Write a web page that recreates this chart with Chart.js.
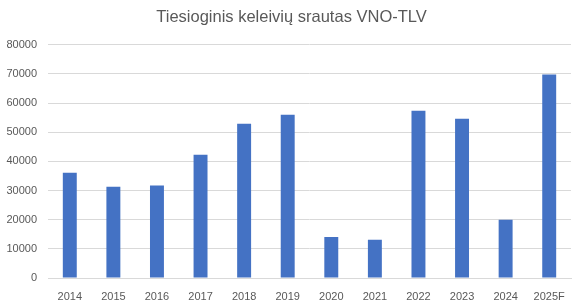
<!DOCTYPE html>
<html>
<head>
<meta charset="utf-8">
<script src="https://cdn.jsdelivr.net/npm/chart.js@4/dist/chart.umd.min.js"></script>
<style>
html,body{margin:0;padding:0;background:#fff;}
#wrap{width:583px;height:306px;position:relative;}
</style>
</head>
<body>
<div id="wrap"><canvas id="c" width="583" height="306"></canvas></div>
<script>
const categories = ["2014","2015","2016","2017","2018","2019","2020","2021","2022","2023","2024","2025F"];
const passengers = [36100,31300,31700,42300,52900,56000,14100,13100,57400,54600,20000,69800];
const yTicks = [0,10000,20000,30000,40000,50000,60000,70000,80000];
const chartTitle = "Tiesioginis keleivių srautas VNO-TLV";

const fontFam = "'Liberation Sans', Arial, sans-serif";
new Chart(document.getElementById('c'), {
  type: 'bar',
  data: {
    labels: categories,
    datasets: [{
      data: passengers,
      backgroundColor: '#4472c4',
      borderWidth: 0,
      categoryPercentage: 0.64,
      barPercentage: 0.5
    }]
  },
  options: {
    responsive: false,
    animation: false,
    layout: { padding: 0 },
    plugins: {
      legend: { display: false },
      tooltip: { enabled: false },
      title: {
        display: true,
        text: chartTitle,
        color: '#595959',
        font: { family: fontFam, size: 16.5, weight: 'normal' },
        padding: { top: 8, bottom: 17 }
      }
    },
    scales: {
      x: {
        grid: { display: false },
        border: { display: true, color: '#d9d9d9' },
        ticks: { color: '#595959', font: { family: fontFam, size: 11 }, padding: 4, maxRotation: 0 },
        afterFit: s => { s.height = 28; }
      },
      y: {
        min: 0, max: 80000,
        afterBuildTicks: s => { s.ticks = yTicks.map(v => ({ value: v })); },
        grid: { color: '#d9d9d9', drawTicks: false },
        border: { display: false },
        ticks: { color: '#595959', font: { family: fontFam, size: 11 }, padding: 11,
                 callback: v => String(v) },
        afterFit: s => { s.width = 48; }
      },
      yRightSpace: {
        position: 'right',
        display: true,
        min: 0, max: 1,
        grid: { display: false },
        border: { display: false },
        ticks: { display: false },
        afterFit: s => { s.width = 12; }
      }
    }
  }
});
</script>
</body>
</html>
